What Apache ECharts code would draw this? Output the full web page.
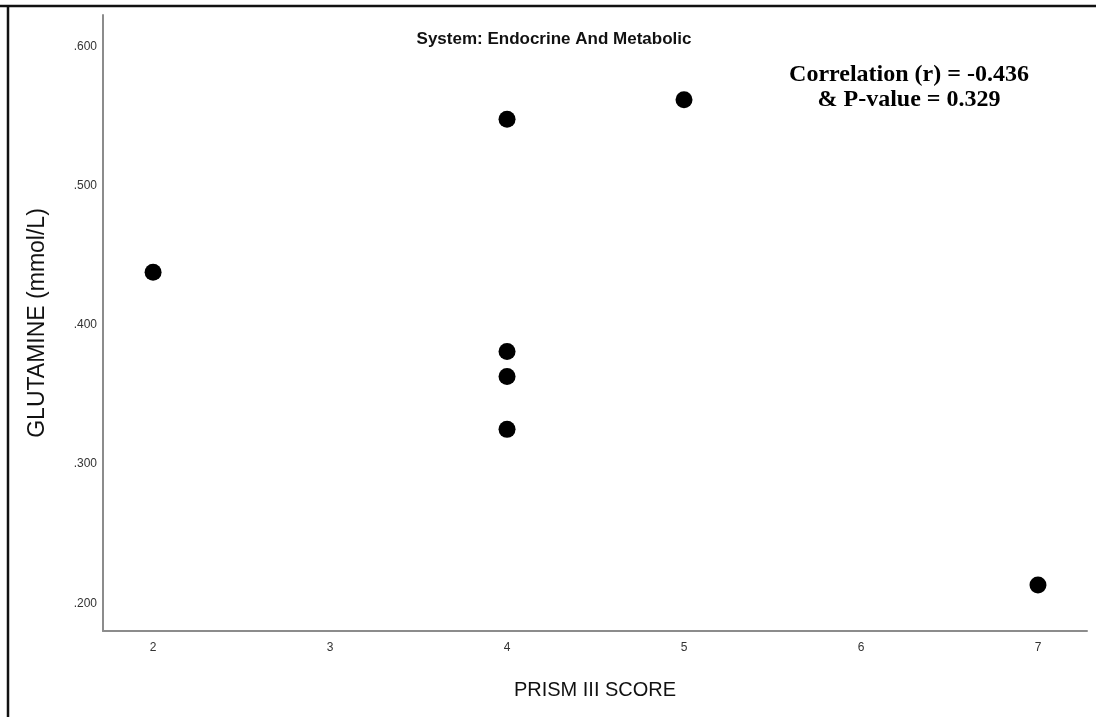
<!DOCTYPE html>
<html>
<head>
<meta charset="utf-8">
<script src="https://cdn.jsdelivr.net/npm/echarts@6/dist/echarts.min.js"></script>
<style>
  html, body { margin: 0; padding: 0; background: #fff; }
  #chart { width: 1096px; height: 717px; }
</style>
</head>
<body>
<div id="chart"></div>
<script>
// PRISM III score vs. glutamine, endocrine and metabolic system
const prismScore = [2, 4, 5, 4, 4, 4, 7];
const glutamine = [0.438, 0.548, 0.562, 0.381, 0.363, 0.325, 0.213];
const xTicks = [2, 3, 4, 5, 6, 7];
const yTicks = [0.2, 0.3, 0.4, 0.5, 0.6];
const chartTitle = 'System: Endocrine And Metabolic';
const statLines = ['Correlation (r) = -0.436', '& P-value = 0.329'];
const xName = 'PRISM III SCORE';
const yName = 'GLUTAMINE (mmol/L)';

const points = prismScore.map((x, i) => [x, glutamine[i]]);

const chart = echarts.init(document.getElementById('chart'));
const axisGray = '#8c8c8c';

chart.setOption({
  animation: false,
  backgroundColor: '#ffffff',
  grid: { left: 103, right: 9, top: 15, bottom: 86, containLabel: false },
  title: [
    {
      text: chartTitle,
      left: 549, top: 26, textAlign: 'center',
      textStyle: { fontFamily: 'Liberation Sans', fontWeight: 'bold', fontSize: 17, color: '#111' }
    },
    {
      text: statLines.join('\n'),
      left: 904, top: 57, textAlign: 'center',
      textStyle: { fontFamily: 'Liberation Serif', fontWeight: 'bold', fontSize: 24, lineHeight: 25, color: '#000' }
    }
  ],
  xAxis: {
    type: 'value',
    min: 1.717, max: 7.277,
    name: xName,
    nameLocation: 'middle',
    nameGap: 49,
    nameTextStyle: { fontFamily: 'Liberation Sans', fontSize: 20, color: '#111' },
    axisLine: { show: true, lineStyle: { color: axisGray, width: 2 } },
    axisTick: { show: false },
    splitLine: { show: false },
    axisLabel: {
      customValues: xTicks,
      margin: 11,
      fontFamily: 'Liberation Sans', fontSize: 12, color: '#333',
      formatter: v => String(v)
    }
  },
  yAxis: {
    type: 'value',
    min: 0.18, max: 0.623,
    name: yName,
    nameLocation: 'middle',
    nameGap: 54,
    nameTextStyle: { fontFamily: 'Liberation Sans', fontSize: 23, color: '#111' },
    axisLine: { show: true, onZero: false, lineStyle: { color: axisGray, width: 2 } },
    axisTick: { show: false },
    splitLine: { show: false },
    axisLabel: {
      customValues: yTicks,
      margin: 6,
      fontFamily: 'Liberation Sans', fontSize: 12, color: '#333',
      formatter: v => v.toFixed(3).replace(/^0/, '')
    }
  },
  graphic: [
    { type: 'line', shape: { x1: 0, y1: 6, x2: 1096, y2: 6 }, style: { stroke: '#111', lineWidth: 2.5 } },
    { type: 'line', shape: { x1: 8, y1: 5, x2: 8, y2: 717 }, style: { stroke: '#111', lineWidth: 2.5 } }
  ],
  series: [{
    type: 'scatter',
    data: points,
    symbol: 'circle',
    symbolSize: 17,
    itemStyle: { color: '#000', opacity: 1 }
  }]
});
</script>
</body>
</html>
